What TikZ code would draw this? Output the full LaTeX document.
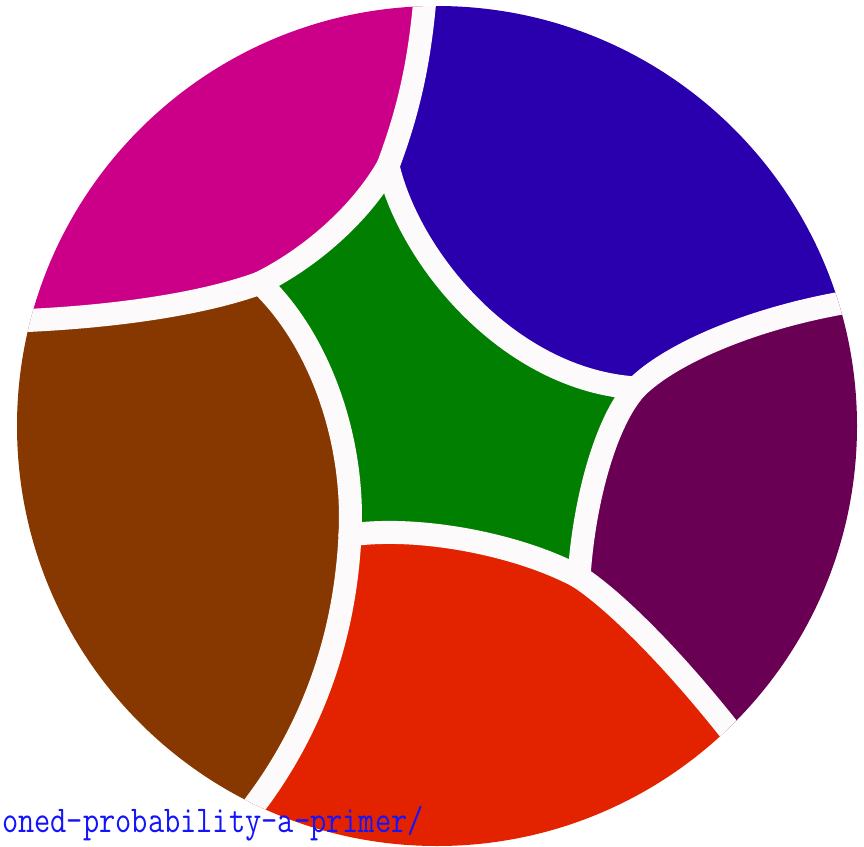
\documentclass[tikz,border=0pt]{standalone}
\usepackage{fontspec}
\usepackage{graphicx}
\definecolor{cmag}{RGB}{204,0,136}
\definecolor{cblue}{RGB}{42,0,174}
\definecolor{cpurp}{RGB}{106,0,84}
\definecolor{cred}{RGB}{227,34,0}
\definecolor{cbrown}{RGB}{134,56,0}
\definecolor{cgreen}{RGB}{0,127,0}
\definecolor{cgap}{RGB}{252,250,250}
\definecolor{curl}{RGB}{20,20,250}
\tikzset{
  gapline/.style={draw=cgap, line width=23pt, line cap=round, line join=round},
  urltext/.style={text=curl, font=\ttfamily\fontsize{31.5}{31.5}\selectfont, inner sep=0pt, anchor=base east}
}
\begin{document}
\begin{tikzpicture}[x=1pt,y=-1pt]
\useasboundingbox (0,0) rectangle (864,846);
\coordinate (J1) at (388,166);
\coordinate (J2) at (636,388);
\coordinate (J3) at (579,577);
\coordinate (J4) at (350,535);
\coordinate (J5) at (260,283);
\coordinate (oMB) at (426,-15);
\coordinate (oBP) at (860,300);
\coordinate (oPR) at (760,770);
\coordinate (oBrR) at (230,835);
\coordinate (oMBr) at (-20,322);
\begin{scope}
\path[clip] (437,426) circle[radius=420pt];
% magenta
\fill[cmag] (oMB) .. controls (420,70) and (405,120) .. (J1)
  .. controls (360,215) and (310,258) .. (J5)
  .. controls (200,305) and (100,320) .. (oMBr)
  -- (-150,322) -- (-150,-150) -- (426,-150) -- cycle;
% blue
\fill[cblue] (oMB) .. controls (420,70) and (405,120) .. (J1)
  .. controls (410,260) and (510,380) .. (J2)
  .. controls (672,352) and (760,315) .. (oBP)
  -- (1100,300) -- (1100,-150) -- (426,-150) -- cycle;
% purple
\fill[cpurp] (J2) .. controls (672,352) and (760,315) .. (oBP)
  -- (1100,300) -- (1100,1000) -- (900,947) -- (oPR)
  .. controls (690,675) and (620,604) .. (J3)
  .. controls (584,500) and (606,421) .. (J2) -- cycle;
% red
\fill[cred] (J4) .. controls (420,525) and (520,545) .. (J3)
  .. controls (620,604) and (690,675) .. (oPR)
  -- (900,947) -- (900,1100) -- (150,1100) -- (150,958) -- (oBrR)
  .. controls (310,745) and (345,640) .. (J4) -- cycle;
% brown
\fill[cbrown] (J5) .. controls (320,340) and (355,440) .. (J4)
  .. controls (345,640) and (310,745) .. (oBrR)
  -- (150,958) -- (-150,958) -- (-150,322) -- (oMBr)
  .. controls (100,320) and (200,305) .. (J5) -- cycle;
% green
\fill[cgreen] (J1) .. controls (410,260) and (510,380) .. (J2)
  .. controls (606,421) and (584,500) .. (J3)
  .. controls (520,545) and (420,525) .. (J4)
  .. controls (355,440) and (320,340) .. (J5)
  .. controls (310,258) and (360,215) .. (J1) -- cycle;
% gaps
\draw[gapline] (oMB) .. controls (420,70) and (405,120) .. (J1);
\draw[gapline] (J1) .. controls (410,260) and (510,380) .. (J2);
\draw[gapline] (J2) .. controls (672,352) and (760,315) .. (oBP);
\draw[gapline] (J2) .. controls (606,421) and (584,500) .. (J3);
\draw[gapline] (J3) .. controls (620,604) and (690,675) .. (oPR);
\draw[gapline] (J4) .. controls (420,525) and (520,545) .. (J3);
\draw[gapline] (J4) .. controls (345,640) and (310,745) .. (oBrR);
\draw[gapline] (J5) .. controls (320,340) and (355,440) .. (J4);
\draw[gapline] (J5) .. controls (310,258) and (360,215) .. (J1);
\draw[gapline] (J5) .. controls (200,305) and (100,320) .. (oMBr);
\end{scope}
\node[urltext] (url) at (424,832) {\scalebox{1}[1.2]{oned-probability-a-primer/}};
\end{tikzpicture}
\end{document}
